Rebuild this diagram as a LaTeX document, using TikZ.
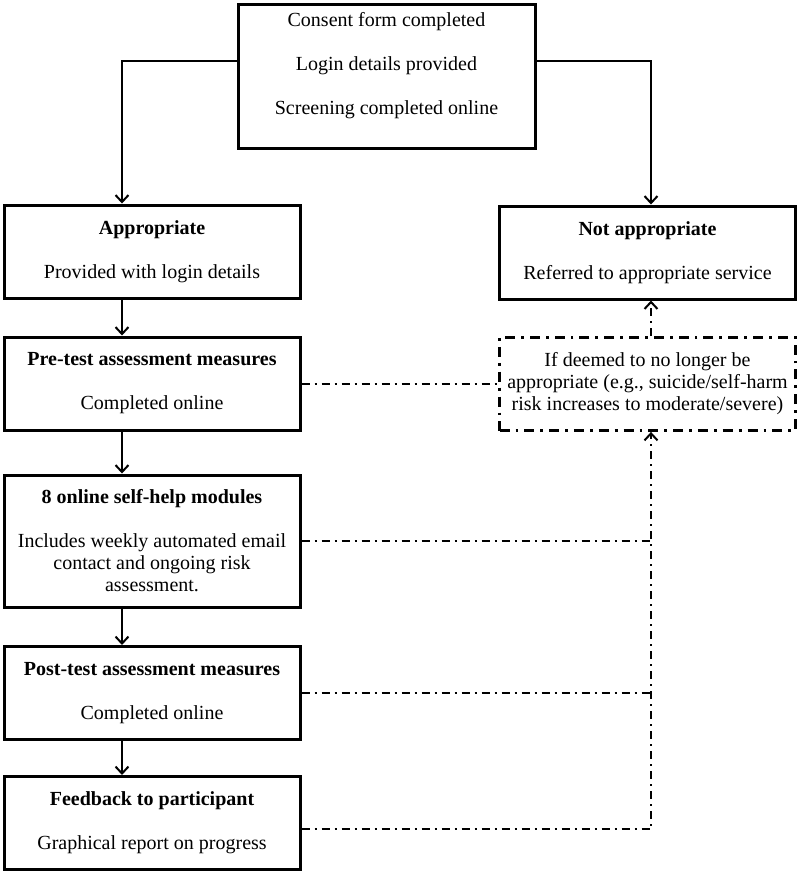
\documentclass[tikz,border=0pt]{standalone}
\usepackage{fontspec}
\setmainfont{Liberation Serif}
\usepackage{tikz}
\usetikzlibrary{arrows.meta, positioning, calc}
\tikzset{x=0.5pt,y=-0.5pt, >={Straight Barb[length=3.5pt,width=6.5pt]}}

\begin{document}
\begin{tikzpicture}
% Style
[
    line cap=butt,
    flow box/.style={draw, line width=1.5pt, minimum width=148pt, minimum height=46.5pt,
        align=center, inner sep=2pt, font=\fontsize{10}{11}\selectfont},
    risk box/.style={flow box, line width=1.4pt, dash pattern=on 5pt off 3pt on 1.4pt off 3pt},
    flow line/.style={->, line width=1pt},
    check line/.style={line width=1pt, dash pattern=on 4pt off 2.5pt on 1pt off 2.5pt}
]

%=================================== Start ===================================
{
    \useasboundingbox (0, 0) rectangle (800, 874);

    % Define: Columns
    \coordinate (left col)  at (122, 0);
    \coordinate (right col) at (651, 0);

    % Draw: Boxes
    \node[flow box, minimum width=148.5pt, minimum height=72pt, text depth=13pt] (consent) at (386.5, 76)
        {Consent form completed\\[11pt]Login details provided\\[11pt]Screening completed online};
    \node[flow box] (appr) at (152, 251.5)
        {\textbf{Appropriate}\\[11pt]Provided with login details};
    \node[flow box] (not appr) at (647.5, 252.5)
        {\textbf{Not appropriate}\\[11pt]Referred to appropriate service};
    \node[flow box] (pre test) at (152, 383.5)
        {\textbf{Pre-test assessment measures}\\[11pt]Completed online};
    \node[risk box] (risk) at (647.5, 384)
        {If deemed to no longer be\\appropriate (e.g., suicide/self-harm\\risk increases to moderate/severe)};
    \node[flow box, minimum height=66pt] (modules) at (152, 541)
        {\textbf{8 online self-help modules}\\[11pt]Includes weekly automated email\\contact and ongoing risk\\assessment.};
    \node[flow box] (post test) at (152, 693)
        {\textbf{Post-test assessment measures}\\[11pt]Completed online};
    \node[flow box] (feedback) at (152, 823)
        {\textbf{Feedback to participant}\\[11pt]Graphical report on progress};

    % Draw: Flow
    \draw[flow line] ([yshift=7.5pt]consent.west) -| (appr.north -| left col);
    \draw[flow line] ([yshift=7.5pt]consent.east) -| (not appr.north -| right col);
    \draw[flow line] (appr.south -| left col) -- (pre test.north -| left col);
    \draw[flow line] (pre test.south -| left col) -- (modules.north -| left col);
    \draw[flow line] (modules.south -| left col) -- (post test.north -| left col);
    \draw[flow line] (post test.south -| left col) -- (feedback.north -| left col);

    % Draw: Risk checks
    \draw[check line] (pre test.east) -- (risk.west |- pre test.east);
    \draw[check line] (modules.east) -- (modules.east -| right col);
    \draw[check line] (post test.east) -- (post test.east -| right col);
    \draw[check line, ->] ([yshift=-3pt]feedback.east) -| (risk.south -| right col);
    \draw[check line, ->] (risk.north -| right col) -- (not appr.south -| right col);
}
%==================================== END ====================================

\end{tikzpicture}
\end{document}
